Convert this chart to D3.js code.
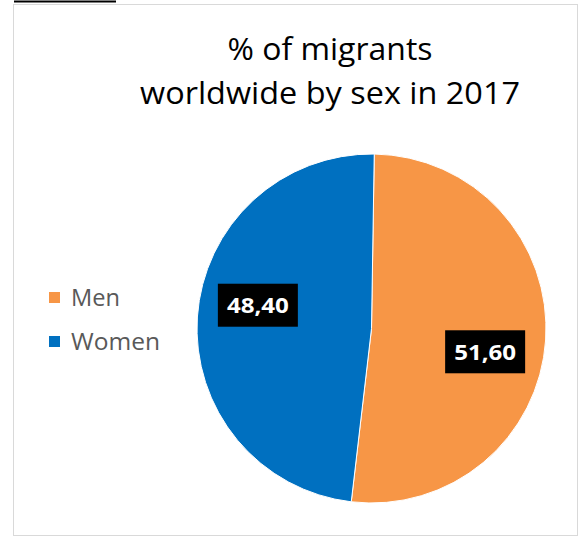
<!DOCTYPE html>
<html><head><meta charset="utf-8">
<script src="https://cdn.jsdelivr.net/npm/d3@7"></script>
<style>html,body{margin:0;padding:0;background:#fff;}svg{display:block;}</style>
</head><body>
<svg id="chart" width="579" height="537"></svg>
<script>
const categories = ["Men", "Women"];
const values = [51.6, 48.4];
const valueLabels = ["51,60", "48,40"];
const colors = ["#F79646", "#0070C0"];
const titleLines = ["% of migrants", "worldwide by sex in 2017"];

const svg = d3.select("#chart");
// top underline fragment from the document
svg.append("line").attr("x1", 14).attr("x2", 116).attr("y1", 1.5).attr("y2", 1.5)
  .attr("stroke", "#000").attr("stroke-width", 2);
// chart frame
svg.append("rect").attr("x", 13.5).attr("y", 4.5).attr("width", 564).attr("height", 531)
  .attr("fill", "#fff").attr("stroke", "#d9d9d9").attr("stroke-width", 1);

// title
svg.append("g").selectAll("text").data(titleLines).join("text")
  .attr("x", 330).attr("y", (d, i) => 60 + i * 44)
  .attr("text-anchor", "middle")
  .attr("font-family", "Open Sans, Liberation Sans, sans-serif")
  .attr("font-size", 31).attr("fill", "#000")
  .attr("textLength", (d, i) => i === 0 ? 205 : 380)
  .attr("lengthAdjust", "spacingAndGlyphs")
  .text(d => d);

const cx = 371.5, cy = 328.5, R = 174.5;
const start = 0.9 * Math.PI / 180;
const pie = d3.pie().sort(null).startAngle(start).endAngle(start + 2 * Math.PI).value(d => d)(values);
const arc = d3.arc().innerRadius(0).outerRadius(R);
const g = svg.append("g").attr("transform", `translate(${cx},${cy})`);
g.selectAll("path").data(pie).join("path")
  .attr("d", arc).attr("fill", (d, i) => colors[i])
  .attr("stroke", "#fff").attr("stroke-width", 1);

// data labels
const labelR = 116, shift = 7.8 * Math.PI / 180;
const lab = g.selectAll("g.lab").data(pie).join("g").attr("class", "lab")
  .attr("transform", d => {
    const a = (d.startAngle + d.endAngle) / 2 + shift;
    return `translate(${labelR * Math.sin(a)},${-labelR * Math.cos(a)})`;
  });
lab.append("rect").attr("x", -40).attr("y", -21.5).attr("width", 80).attr("height", 43).attr("fill", "#000");
lab.append("text").attr("text-anchor", "middle").attr("dy", "0.36em")
  .attr("font-family", "Open Sans, Liberation Sans, sans-serif")
  .attr("font-weight", "bold").attr("font-size", 22).attr("fill", "#fff")
  .attr("textLength", 62).attr("lengthAdjust", "spacingAndGlyphs")
  .text((d, i) => valueLabels[i]);

// legend
const leg = svg.append("g").selectAll("g").data(categories).join("g")
  .attr("transform", (d, i) => `translate(49,${292 + i * 44})`);
leg.append("rect").attr("width", 11).attr("height", 11).attr("fill", (d, i) => colors[i]);
leg.append("text").attr("x", 22).attr("y", 5.5).attr("dy", "0.36em")
  .attr("font-family", "Open Sans, Liberation Sans, sans-serif")
  .attr("font-size", 23).attr("fill", "#595959")
  .attr("textLength", (d, i) => i === 0 ? 49 : 89).attr("lengthAdjust", "spacingAndGlyphs")
  .text(d => d);
</script>
</body></html>
